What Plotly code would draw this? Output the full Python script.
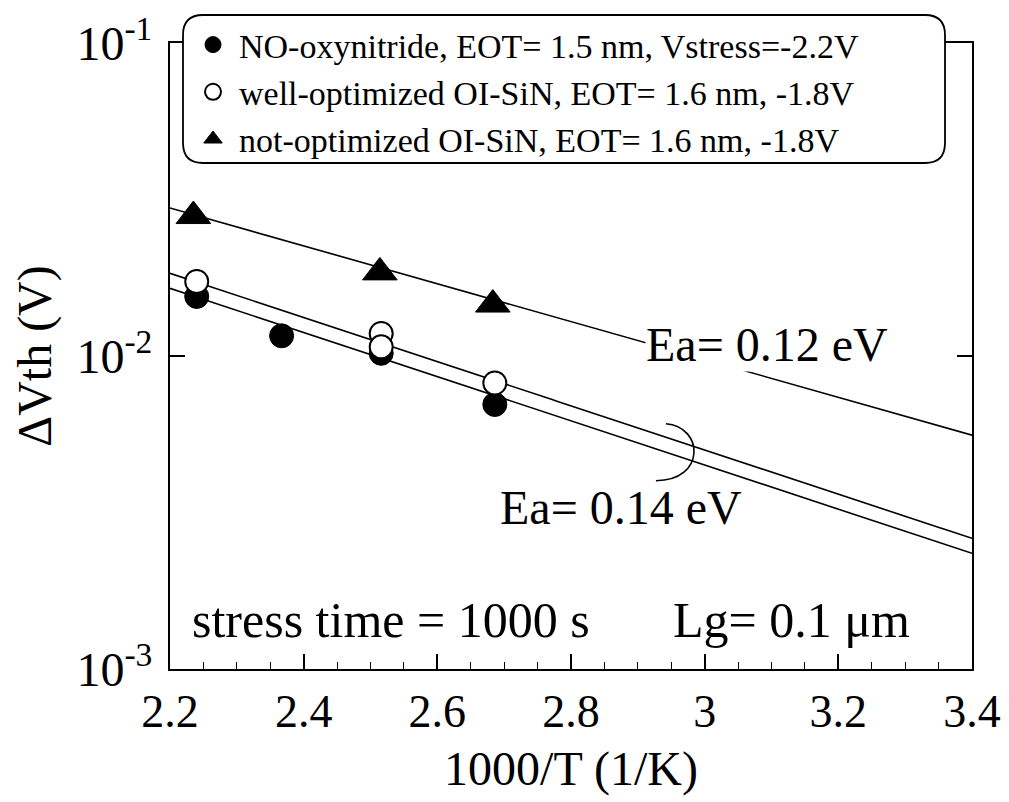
import numpy as np
import plotly.graph_objects as go

# ---- measured threshold-voltage shifts vs inverse temperature ----
x_no = [2.24, 2.367, 2.516, 2.686]          # 1000/T (1/K)
dvth_no = [0.0155, 0.0116, 0.0102, 0.0070]  # NO-oxynitride (V)

x_well = [2.24, 2.516, 2.516, 2.686]
dvth_well = [0.0173, 0.0118, 0.0107, 0.0082]  # well-optimized OI-SiN (V)

x_notopt = [2.235, 2.514, 2.683]
dvth_notopt = [0.0280, 0.0185, 0.0146]      # not-optimized OI-SiN (V)

legend_names = [
    "NO-oxynitride, EOT= 1.5 nm, Vstress=-2.2V",
    "well-optimized OI-SiN, EOT= 1.6 nm, -1.8V",
    "not-optimized OI-SiN, EOT= 1.6 nm, -1.8V",
]

# ---- Arrhenius fit lines: activation energy (eV) and value at 1000/T = 2.2 ----
fit_ea = [0.14, 0.14, 0.12]
fit_y0 = [0.01645, 0.01837, 0.0297]
K_B = 8.617e-5  # eV/K

x_ticks = [2.2, 2.4, 2.6, 2.8, 3.0, 3.2, 3.4]
x_ticktext = ["2.2", "2.4", "2.6", "2.8", "3", "3.2", "3.4"]
y_ticks = [0.001, 0.01, 0.1]
y_ticktext = ["10<sup>-3</sup>", "10<sup>-2</sup>", "10<sup>-1</sup>"]

X_RANGE = [2.2, 3.4]
Y_RANGE = [-3, -1]  # log10

FONT = "Liberation Serif"
INK = "black"

fig = go.Figure()

xfit = np.linspace(X_RANGE[0], X_RANGE[1], 200)
for ea, y0 in zip(fit_ea, fit_y0):
    yfit = y0 * np.exp(-ea / K_B * (xfit - X_RANGE[0]) / 1000.0)
    fig.add_trace(go.Scatter(x=xfit, y=yfit, mode="lines",
                             line=dict(color=INK, width=1.6),
                             showlegend=False, hoverinfo="skip"))

fig.add_trace(go.Scatter(x=x_no, y=dvth_no, mode="markers", name=legend_names[0],
                         marker=dict(symbol="circle", size=24, color=INK,
                                     line=dict(color=INK, width=1))))
fig.add_trace(go.Scatter(x=x_well, y=dvth_well, mode="markers", name=legend_names[1],
                         marker=dict(symbol="circle", size=23, color="white",
                                     line=dict(color=INK, width=2))))
fig.add_trace(go.Scatter(x=x_notopt, y=dvth_notopt, mode="markers", name=legend_names[2],
                         marker=dict(symbol="triangle-up", size=30, color=INK,
                                     line=dict(color=INK, width=1))))


def to_paper(x, y):
    """Data (x, linear y) to paper fractions of the plot area."""
    px = (x - X_RANGE[0]) / (X_RANGE[1] - X_RANGE[0])
    py = (np.log10(y) - Y_RANGE[0]) / (Y_RANGE[1] - Y_RANGE[0])
    return px, py


W, H = 1009, 802
M = dict(l=170, r=37, t=43, b=133, autoexpand=False)
PW = W - M["l"] - M["r"]
PH = H - M["t"] - M["b"]

# bracket around the two Ea = 0.14 eV lines
xb = 2.96
ymid = np.sqrt(np.prod([y0 * np.exp(-ea / K_B * (xb - X_RANGE[0]) / 1000.0)
                        for ea, y0 in zip(fit_ea[:2], fit_y0[:2])]))
bx, by = to_paper(xb, ymid)


def off(dx, dy):
    return f"{bx + dx / PW:.5f},{by - dy / PH:.5f}"


bracket = (f"M {off(-12, -25)} C {off(26, -22)} {off(28, 32)} {off(-22, 32)}")
fig.add_shape(type="path", path=bracket, xref="paper", yref="paper",
              line=dict(color=INK, width=1.6))

# rounded legend frame
lx0, lx1 = (183 - M["l"]) / PW, (945 - M["l"]) / PW
ly1, ly0 = (H - M["b"] - 15) / PH, (H - M["b"] - 163) / PH
rx, ry = 20 / PW, 20 / PH
frame = (f"M {lx0 + rx},{ly1} L {lx1 - rx},{ly1} Q {lx1},{ly1} {lx1},{ly1 - ry} "
         f"L {lx1},{ly0 + ry} Q {lx1},{ly0} {lx1 - rx},{ly0} "
         f"L {lx0 + rx},{ly0} Q {lx0},{ly0} {lx0},{ly0 + ry} "
         f"L {lx0},{ly1 - ry} Q {lx0},{ly1} {lx0 + rx},{ly1} Z")
fig.add_shape(type="path", path=frame, xref="paper", yref="paper",
              fillcolor="white", line=dict(color=INK, width=1.8), layer="above")

ann_font = dict(family=FONT, size=48, color=INK)
fig.add_annotation(x=3.094, y=np.log10(0.01092), text="Ea= 0.12 eV", showarrow=False,
                   font=ann_font, bgcolor="white", borderpad=0)
fig.add_annotation(x=2.875, y=np.log10(0.00327), text="Ea= 0.14 eV", showarrow=False,
                   font=ann_font)
fig.add_annotation(x=2.53, y=np.log10(0.001436), text="stress time = 1000 s",
                   showarrow=False, font=dict(family=FONT, size=50, color=INK))
fig.add_annotation(x=3.13, y=np.log10(0.001436), text="Lg= 0.1 μm",
                   showarrow=False, font=dict(family=FONT, size=50, color=INK))

axis_common = dict(showline=True, linecolor=INK, linewidth=2, mirror="ticks",
                   ticks="inside", tickcolor=INK, tickwidth=1.6, ticklen=15,
                   showgrid=False, zeroline=False, automargin=False)

fig.update_xaxes(range=X_RANGE, tickvals=x_ticks, ticktext=x_ticktext,
                 tickfont=dict(family=FONT, size=46, color=INK),
                 ticklabelstandoff=1,
                 minor=dict(dtick=0.05, tick0=2.2, ticks="inside", ticklen=7,
                            tickcolor=INK, tickwidth=1.2),
                 title=dict(text="1000/T (1/K)", font=dict(family=FONT, size=48, color=INK),
                            standoff=15),
                 **axis_common)
fig.update_yaxes(type="log", range=Y_RANGE, tickvals=y_ticks, ticktext=y_ticktext,
                 tickfont=dict(family=FONT, size=48, color=INK),
                 ticklabelstandoff=6,
                 title=dict(text="ΔVth (V)", font=dict(family=FONT, size=48, color=INK),
                            standoff=10),
                 **axis_common)

fig.update_layout(
    width=W, height=H, margin=M,
    paper_bgcolor="white", plot_bgcolor="white",
    font=dict(family=FONT, color=INK),
    legend=dict(x=lx0 + 4 / PW, y=ly1 - 1 / PH, xanchor="left", yanchor="top",
                bgcolor="rgba(0,0,0,0)", borderwidth=0,
                font=dict(family=FONT, size=34, color=INK),
                itemwidth=42, tracegroupgap=0),
    showlegend=True,
)

fig.write_html("out.html")
